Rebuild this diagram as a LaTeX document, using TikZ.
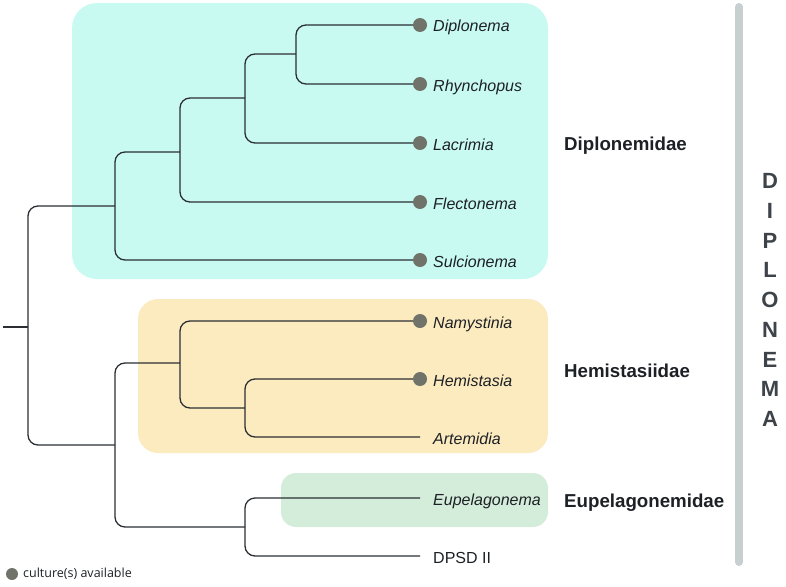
\documentclass[tikz,border=0pt]{standalone}
\usepackage{fontspec}
\setmainfont{Liberation Sans}
\newfontfamily\legendfont{Open Sans}
\usetikzlibrary{calc}
\definecolor{cyanbox}{HTML}{C9FAF2}
\definecolor{yellowbox}{HTML}{FDEBC0}
\definecolor{greenbox}{HTML}{D4EDDA}
\definecolor{dotc}{HTML}{6F7369}
\definecolor{barc}{HTML}{C6D0D0}
\definecolor{linec}{HTML}{2B2F34}
\definecolor{textc}{HTML}{1D2126}
\definecolor{bigc}{HTML}{3D4348}
\tikzset{
  branch/.style={draw=linec, line width=1.3pt, rounded corners=10pt},
  taxon/.style={anchor=base west, inner sep=0pt, text=textc, font=\fontsize{16}{18}\selectfont\itshape},
  plain/.style={anchor=base west, inner sep=0pt, text=textc, font=\fontsize{16}{18}\selectfont},
  family/.style={anchor=base west, inner sep=0pt, text=textc, font=\fontsize{18.7}{21}\selectfont\bfseries},
  bigletter/.style={inner sep=0pt, text=bigc, font=\fontsize{22}{24}\selectfont\bfseries},
  culture/.style={fill=dotc},
}
\begin{document}
\begin{tikzpicture}[x=1pt,y=-1pt]
\useasboundingbox (0,0) rectangle (786,586);
% clade boxes
\fill[cyanbox, rounded corners=25pt] (72,3) rectangle (548,279);
\fill[yellowbox, rounded corners=20pt] (138,299) rectangle (548,453);
\fill[greenbox, rounded corners=15pt] (281,473) rectangle (548,527);
% internal nodes
\coordinate (stem) at (3,327);
\coordinate (root) at (28,327);
\coordinate (dip) at (115,206);
\coordinate (d2) at (180,152);
\coordinate (d3) at (245,98);
\coordinate (d4) at (296,54);
\coordinate (bot) at (115,445);
\coordinate (hem) at (180,363);
\coordinate (h2) at (245,408);
\coordinate (eup) at (245,527);
% tips
\coordinate (t1) at (420,25);
\coordinate (t2) at (420,84);
\coordinate (t3) at (420,143);
\coordinate (t4) at (420,202);
\coordinate (t5) at (420,260);
\coordinate (t6) at (420,321);
\coordinate (t7) at (420,379);
\coordinate (t8) at (420,437);
\coordinate (t9) at (420,498);
\coordinate (t10) at (420,556);
% branches
\draw[branch] (stem) -- (root);
\draw[branch] (dip) -| (root) |- (bot);
\draw[branch] (d2) -| (dip) |- (t5);
\draw[branch] (d3) -| (d2) |- (t4);
\draw[branch] (d4) -| (d3) |- (t3);
\draw[branch] (t1) -| (d4) |- (t2);
\draw[branch] (hem) -| (bot) |- (eup);
\draw[branch] (t6) -| (hem) |- (h2);
\draw[branch] (t7) -| (h2) |- (t8);
\draw[branch] (t9) -| (eup) |- (t10);
% culture dots
\foreach \t in {t1,t2,t3,t4,t5,t6,t7} \fill[culture] (\t) circle (7);
% taxon labels
\node[taxon] (l1) at ($(t1)+(13,7)$) {Diplonema};
\node[taxon] (l2) at ($(t2)+(13,7)$) {Rhynchopus};
\node[taxon] (l3) at ($(t3)+(13,7)$) {Lacrimia};
\node[taxon] (l4) at ($(t4)+(13,7)$) {Flectonema};
\node[taxon] (l5) at ($(t5)+(13,7)$) {Sulcionema};
\node[taxon] (l6) at ($(t6)+(13,7)$) {Namystinia};
\node[taxon] (l7) at ($(t7)+(13,7)$) {Hemistasia};
\node[taxon] (l8) at ($(t8)+(13,7)$) {Artemidia};
\node[taxon] (l9) at ($(t9)+(13,7)$) {Eupelagonema};
\node[plain] (l10) at ($(t10)+(13,7)$) {DPSD II};
% family labels
\node[family] (f1) at (564,150) {Diplonemidae};
\node[family] (f2) at (564,377) {Hemistasiidae};
\node[family] (f3) at (564,507) {Eupelagonemidae};
% Diplonemea bar
\coordinate (bartop) at (739,7);
\coordinate (barbot) at (739,562);
\draw[barc, line width=8pt, line cap=round] (bartop) -- (barbot);
\foreach \l [count=\i from 0] in {D,I,P,L,O,N,E,M,A}
  \node[bigletter] (dl\i) at (770,{181+29.75*\i}) {\l};
% legend
\coordinate (legdot) at (12,574);
\fill[culture] (legdot) circle (6);
\node[anchor=west, inner sep=0pt, text=textc, font=\legendfont\fontsize{12.5}{14}\selectfont] (legtext) at (23,574) {culture(s) available};
\end{tikzpicture}
\end{document}
